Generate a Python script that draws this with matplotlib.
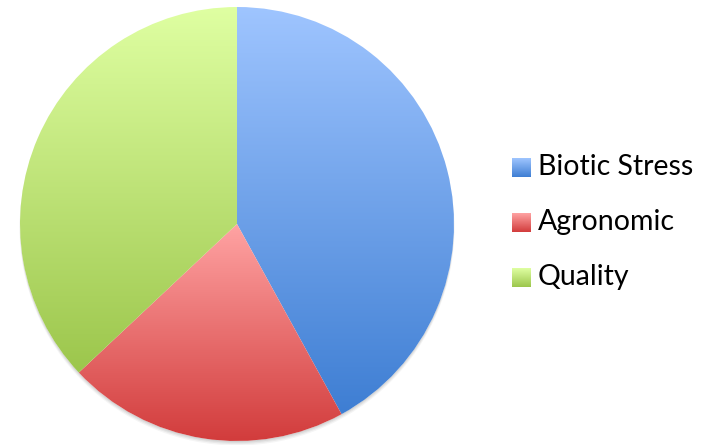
import matplotlib.pyplot as plt
import numpy as np
from matplotlib.colors import LinearSegmentedColormap
from matplotlib.patches import Circle

# slice shares (percent)
labels = ['Biotic Stress', 'Agronomic', 'Quality']
shares = [42, 21, 37]
# gradient colours, top -> bottom
top_colors = ['#9fc5ff', '#ffa3a3', '#dfffa2']
bottom_colors = ['#3e7ed3', '#d23c3c', '#9cc64c']

W, H = 716, 445
fig = plt.figure(figsize=(W / 100, H / 100), dpi=100)
ax = fig.add_axes([0, 0, 1, 1])

cx, cy, r = 237, H - 224, 217

# soft shadow under the pie
for i, a in enumerate([0.04, 0.05, 0.06, 0.08]):
    ax.add_patch(Circle((cx, cy - 4 + i), r + 0.5 - i * 0.3, color='black',
                        alpha=a, lw=0, zorder=0))
ax.add_patch(Circle((cx, cy), r, color='white', lw=0, zorder=0.5))

wedges, _ = ax.pie(shares, center=(cx, cy), radius=r, startangle=90,
                   counterclock=False, frame=True,
                   wedgeprops=dict(linewidth=0))

grad = np.linspace(0, 1, 256).reshape(-1, 1)
for w, c0, c1 in zip(wedges, top_colors, bottom_colors):
    cmap = LinearSegmentedColormap.from_list('g', [c0, c1])
    bb = w.get_path().get_extents(w.get_patch_transform())
    im = ax.imshow(grad, cmap=cmap, aspect='auto', zorder=1,
                   extent=[bb.x0, bb.x1, bb.y0, bb.y1], origin='upper',
                   interpolation='bilinear')
    im.set_clip_path(w)
    w.set_facecolor('none')

# legend with gradient swatches
leg_x, leg_y0, leg_dy, sw = 512, H - 168, 55, 19
for i, (lab, c0, c1) in enumerate(zip(labels, top_colors, bottom_colors)):
    y = leg_y0 - i * leg_dy
    cmap = LinearSegmentedColormap.from_list('g', [c0, c1])
    ax.imshow(grad, cmap=cmap, aspect='auto', zorder=2, origin='upper',
              extent=[leg_x, leg_x + sw, y - sw / 2, y + sw / 2],
              interpolation='bilinear')
    ax.text(leg_x + 26, y + 1, lab, fontsize=20.5, family='Lato',
            va='center', ha='left', color='black')

ax.set_xlim(0, W)
ax.set_ylim(0, H)
ax.axis('off')
fig.savefig('out.png', dpi=100)
